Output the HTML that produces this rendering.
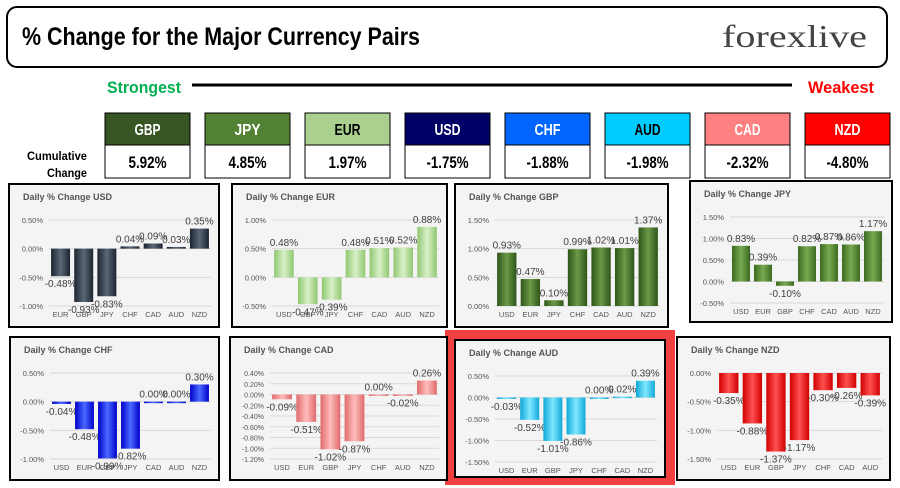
<!DOCTYPE html>
<html><head><meta charset="utf-8"><style>
html,body{margin:0;padding:0;background:#fff;}
svg{display:block;font-family:"Liberation Sans",sans-serif;}
</style></head><body>
<svg id="root" width="900" height="488" viewBox="0 0 900 488">
<defs id="defs"></defs>
<rect x="7" y="7" width="880" height="60" rx="10" fill="#fff" stroke="#000" stroke-width="2"/>
<text x="22" y="45" font-family="'Liberation Sans Narrow','Liberation Sans',sans-serif" font-weight="bold" font-size="25" textLength="398" lengthAdjust="spacingAndGlyphs" fill="#000">% Change for the Major Currency Pairs</text>
<text x="722" y="47" font-family="'Liberation Serif',serif" font-size="32" fill="#444" textLength="145" lengthAdjust="spacingAndGlyphs">forexlive</text>
<text x="107" y="93" font-family="'Liberation Sans Narrow','Liberation Sans',sans-serif" font-weight="bold" font-size="17" fill="#00b050" textLength="74" lengthAdjust="spacingAndGlyphs">Strongest</text>
<line x1="192" y1="85" x2="792" y2="85" stroke="#000" stroke-width="3"/>
<text x="808" y="93" font-family="'Liberation Sans Narrow','Liberation Sans',sans-serif" font-weight="bold" font-size="17" fill="#ff0000" textLength="66" lengthAdjust="spacingAndGlyphs">Weakest</text>
<text x="27" y="160" font-weight="bold" font-size="12" textLength="60" lengthAdjust="spacingAndGlyphs">Cumulative</text>
<text x="47" y="177" font-weight="bold" font-size="12" textLength="40" lengthAdjust="spacingAndGlyphs">Change</text>
<g id="tiles"></g>
<rect x="445" y="330" width="230" height="155" fill="#f04040"/>
<g id="charts"></g>
</svg>
<script>
const NS="http://www.w3.org/2000/svg";
const tileCurrencies=["GBP","JPY","EUR","USD","CHF","AUD","CAD","NZD"];
const tileValues=["5.92%","4.85%","1.97%","-1.75%","-1.88%","-1.98%","-2.32%","-4.80%"];
const tileColors=["#375623","#548235","#a9d08e","#000066","#0066ff","#00ccff","#ff8080","#ff0000"];
const tileText=["#fff","#fff","#000","#fff","#fff","#000","#fff","#fff"];

const usdCats=["EUR","GBP","JPY","CHF","CAD","AUD","NZD"];
const usdVals=[-0.48,-0.93,-0.83,0.04,0.09,0.03,0.35];
const eurCats=["USD","GBP","JPY","CHF","CAD","AUD","NZD"];
const eurVals=[0.48,-0.47,-0.39,0.48,0.51,0.52,0.88];
const gbpCats=["USD","EUR","JPY","CHF","CAD","AUD","NZD"];
const gbpVals=[0.93,0.47,0.10,0.99,1.02,1.01,1.37];
const jpyCats=["USD","EUR","GBP","CHF","CAD","AUD","NZD"];
const jpyVals=[0.83,0.39,-0.10,0.82,0.87,0.86,1.17];
const chfCats=["USD","EUR","GBP","JPY","CAD","AUD","NZD"];
const chfVals=[-0.04,-0.48,-0.99,-0.82,0.00,0.00,0.30];
const cadCats=["USD","EUR","GBP","JPY","CHF","AUD","NZD"];
const cadVals=[-0.09,-0.51,-1.02,-0.87,0.00,-0.02,0.26];
const audCats=["USD","EUR","GBP","JPY","CHF","CAD","NZD"];
const audVals=[-0.03,-0.52,-1.01,-0.86,0.00,0.02,0.39];
const nzdCats=["USD","EUR","GBP","JPY","CHF","CAD","AUD"];
const nzdVals=[-0.35,-0.88,-1.37,-1.17,-0.30,-0.26,-0.39];

const usdTicks=[0.5,0,-0.5,-1.0];
const eurTicks=[1.0,0.5,0,-0.5];
const gbpTicks=[1.5,1.0,0.5,0];
const jpyTicks=[1.5,1.0,0.5,0,-0.5];
const chfTicks=[0.5,0,-0.5,-1.0];
const cadTicks=[0.4,0.2,0,-0.2,-0.4,-0.6,-0.8,-1.0,-1.2];
const audTicks=[0.5,0,-0.5,-1.0,-1.5];
const nzdTicks=[0,-0.5,-1.0,-1.5];

function el(tag,attrs,parent){const e=document.createElementNS(NS,tag);for(const k in attrs)e.setAttribute(k,attrs[k]);parent.appendChild(e);return e;}

const tiles=document.getElementById('tiles');
tileCurrencies.forEach((c,i)=>{
  const x=105+i*100;
  const h=el('rect',{x:x,y:113,width:85,height:32,fill:tileColors[i],stroke:'#000','stroke-width':1},tiles);
  
  
  const t=el('text',{x:x+42.5,y:135,'text-anchor':'middle','font-weight':'bold','font-size':16,fill:tileText[i],textLength:26,lengthAdjust:'spacingAndGlyphs'},tiles);
  t.textContent=c;
  
  
  const v=el('rect',{x:x,y:145,width:85,height:33,fill:'#fff',stroke:'#000','stroke-width':1},tiles);
  
  
  const vt=el('text',{x:x+42.5,y:168,'text-anchor':'middle','font-weight':'bold','font-size':17,fill:'#000',textLength:tileValues[i].length>5?42:38,lengthAdjust:'spacingAndGlyphs'},tiles);
  vt.textContent=tileValues[i];
  
  
});

const defs=document.getElementById('defs');
const charts=document.getElementById('charts');
function chart(name,px,py,pw,ph,cats,vals,ticks,color,light){
  const g=el('g',{},charts);
  
  
  const bg=el('rect',{x:px,y:py,width:pw,height:ph,fill:'#f4f4f4',stroke:'#000','stroke-width':2},g);
  
  
  const title=el('text',{x:px+14,y:py+16,'font-size':9,'font-weight':'bold',fill:'#555'},g);
  title.textContent='Daily % Change '+name.toUpperCase();
  
  
  const left=px+40,right=px+pw-8,top=py+36,bot=py+122;
  const tmax=Math.max(...ticks),tmin=Math.min(...ticks);
  const y=v=>top+(tmax-v)/(tmax-tmin)*(bot-top);
  const band=(right-left)/cats.length;
  const x=i=>left+band*i+band/2;
  const fs=ticks.length>6?7:7.5;
  ticks.forEach(t=>{
    const gl=el('line',{x1:left,x2:right,y1:y(t),y2:y(t),stroke:'#d9d9d9','stroke-width':1},g);
    
    
    const tl=el('text',{x:left-6,y:y(t)+3,'text-anchor':'end','font-size':fs,fill:'#555'},g);
    tl.textContent=t.toFixed(2)+'%';
    
    
  });
  const gid='g-'+name;
  const gr=el('linearGradient',{id:gid,x1:0,y1:0,x2:1,y2:0},defs);
  el('stop',{offset:'0','stop-color':color},gr);
  el('stop',{offset:'0.5','stop-color':light},gr);
  el('stop',{offset:'1','stop-color':color},gr);
  const bw=band*0.82;
  cats.forEach((c,i)=>{
    const v=vals[i];
    const y0=y(0),y1=y(v);
    const b=el('rect',{x:x(i)-bw/2,y:Math.min(y0,y1),width:bw,height:Math.max(1.5,Math.abs(y1-y0)),fill:'url(#'+gid+')'},g);
    
    
    const lbl=el('text',{x:x(i),y:v>=0?y1-4:y1+11,'text-anchor':'middle','font-size':10,fill:'#404040'},g);
    lbl.textContent=v.toFixed(2)+'%';
    
    
    const cl=el('text',{x:x(i),y:bot+11,'text-anchor':'middle','font-size':7.5,fill:'#555'},g);
    cl.textContent=c;
    
    
  });
}
chart('usd',9,184,210,143,usdCats,usdVals,usdTicks,'#1c2430','#5a6878');
chart('eur',232,184,215,143,eurCats,eurVals,eurTicks,'#8fc870','#d8f0c8');
chart('gbp',455,184,213,143,gbpCats,gbpVals,gbpTicks,'#2f5518','#6a9a48');
chart('jpy',690,181,202,141,jpyCats,jpyVals,jpyTicks,'#3a6a20','#78aa50');
chart('chf',10,337,209,143,chfCats,chfVals,chfTicks,'#0000cc','#4a6aff');
chart('cad',230,337,217,143,cadCats,cadVals,cadTicks,'#e06a6a','#ffbcbc');
chart('aud',455,340,210,137,audCats,audVals,audTicks,'#10a8d8','#80e8ff');
chart('nzd',677,337,213,143,nzdCats,nzdVals,nzdTicks,'#d00000','#ff5050');
</script>
</body></html>
